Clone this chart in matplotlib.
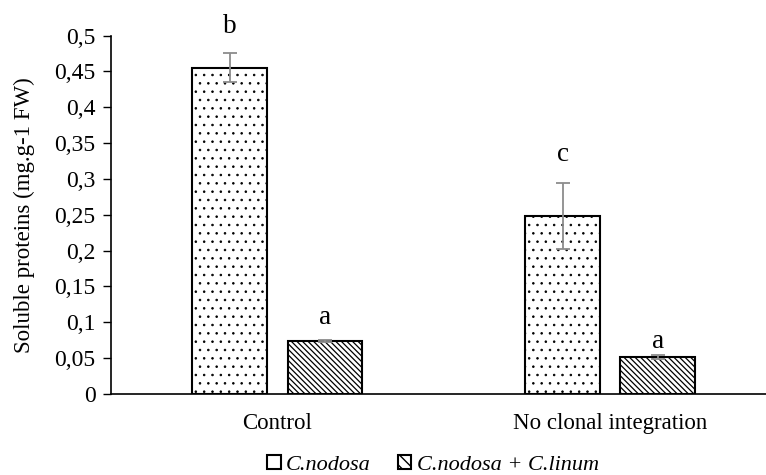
import matplotlib
matplotlib.use("Agg")
import matplotlib.pyplot as plt
from matplotlib.patches import Patch
import numpy as np

# Data
categories = ["Control", "No clonal integration"]
series_names = ["C.nodosa", "C.nodosa + C.linum"]
nodosa = [0.455, 0.248]
nodosa_err = [0.020, 0.046]
nodosa_linum = [0.074, 0.052]
linum_err = [0.002, 0.003]
nodosa_letters = ["b", "c"]
linum_letters = ["a", "a"]
yticks = [0, 0.05, 0.1, 0.15, 0.2, 0.25, 0.3, 0.35, 0.4, 0.45, 0.5]
ytick_labels = ["0", "0,05", "0,1", "0,15", "0,2", "0,25", "0,3", "0,35", "0,4", "0,45", "0,5"]

plt.rcParams["font.family"] = ["Liberation Serif", "DejaVu Serif"]

fig = plt.figure(figsize=(7.66, 4.75), dpi=100)
ax = fig.add_axes([111 / 766, 81 / 475, 665.5 / 766, 358.5 / 475])

x = np.arange(len(categories))
w = 0.225
off = 0.143

with plt.rc_context({"hatch.linewidth": 0.6}):
    ax.bar(x - off, nodosa, w, facecolor="white", edgecolor="black",
           linewidth=1.5, hatch="..", zorder=2)
with plt.rc_context({"hatch.linewidth": 0.9}):
    ax.bar(x + off, nodosa_linum, w, facecolor="white", edgecolor="black",
           linewidth=1.5, hatch="\\" * 6, zorder=2)
ax.errorbar(x - off, nodosa, yerr=nodosa_err, fmt="none", ecolor="#8c8c8c",
            elinewidth=1.3, capsize=5, capthick=1.3, zorder=3)
ax.errorbar(x + off, nodosa_linum, yerr=linum_err, fmt="none", ecolor="#8c8c8c",
            elinewidth=1.3, capsize=5, capthick=1.3, zorder=3)

# significance letters, lifted a little above each error bar
nodosa_gap = [15, 16]
linum_gap = [11.5, 5]
for xi, v, e, t, g in zip(x - off, nodosa, nodosa_err, nodosa_letters, nodosa_gap):
    ax.annotate(t, (xi, v + e), xytext=(0, g), textcoords="offset points",
                ha="center", va="baseline", fontsize=19.5, annotation_clip=False)
for xi, v, e, t, g in zip(x + off, nodosa_linum, linum_err, linum_letters, linum_gap):
    ax.annotate(t, (xi, v + e), xytext=(0, g), textcoords="offset points",
                ha="center", va="baseline", fontsize=19.5, annotation_clip=False)

ax.set_xlim(-0.5, 1.5)
ax.set_ylim(0, 0.5)
ax.set_yticks(yticks)
ax.set_yticklabels(ytick_labels, fontsize=17)
ax.set_xticks(x)
ax.set_xticklabels(categories, fontsize=16.5)
ax.tick_params(axis="x", length=0, pad=14)
ax.tick_params(axis="y", length=6, width=1, pad=5)
ax.set_ylabel("Soluble proteins (mg.g-1 FW)", fontsize=16.5, labelpad=14)

for s in ["top", "right"]:
    ax.spines[s].set_visible(False)
ax.spines["left"].set_linewidth(1.2)
ax.spines["bottom"].set_linewidth(1.2)

handles = [
    Patch(facecolor="white", edgecolor="black", linewidth=1.5),
    Patch(facecolor="white", edgecolor="black", hatch="\\\\\\", linewidth=1.5),
]
fig.legend(handles, series_names, loc="center", bbox_to_anchor=(433 / 766, 1 - 465 / 475),
           ncol=2, frameon=False, prop={"style": "italic", "size": 16},
           handlelength=0.6, handleheight=0.6, handletextpad=0.25, columnspacing=1.2)

fig.savefig("out.png", dpi=100)
